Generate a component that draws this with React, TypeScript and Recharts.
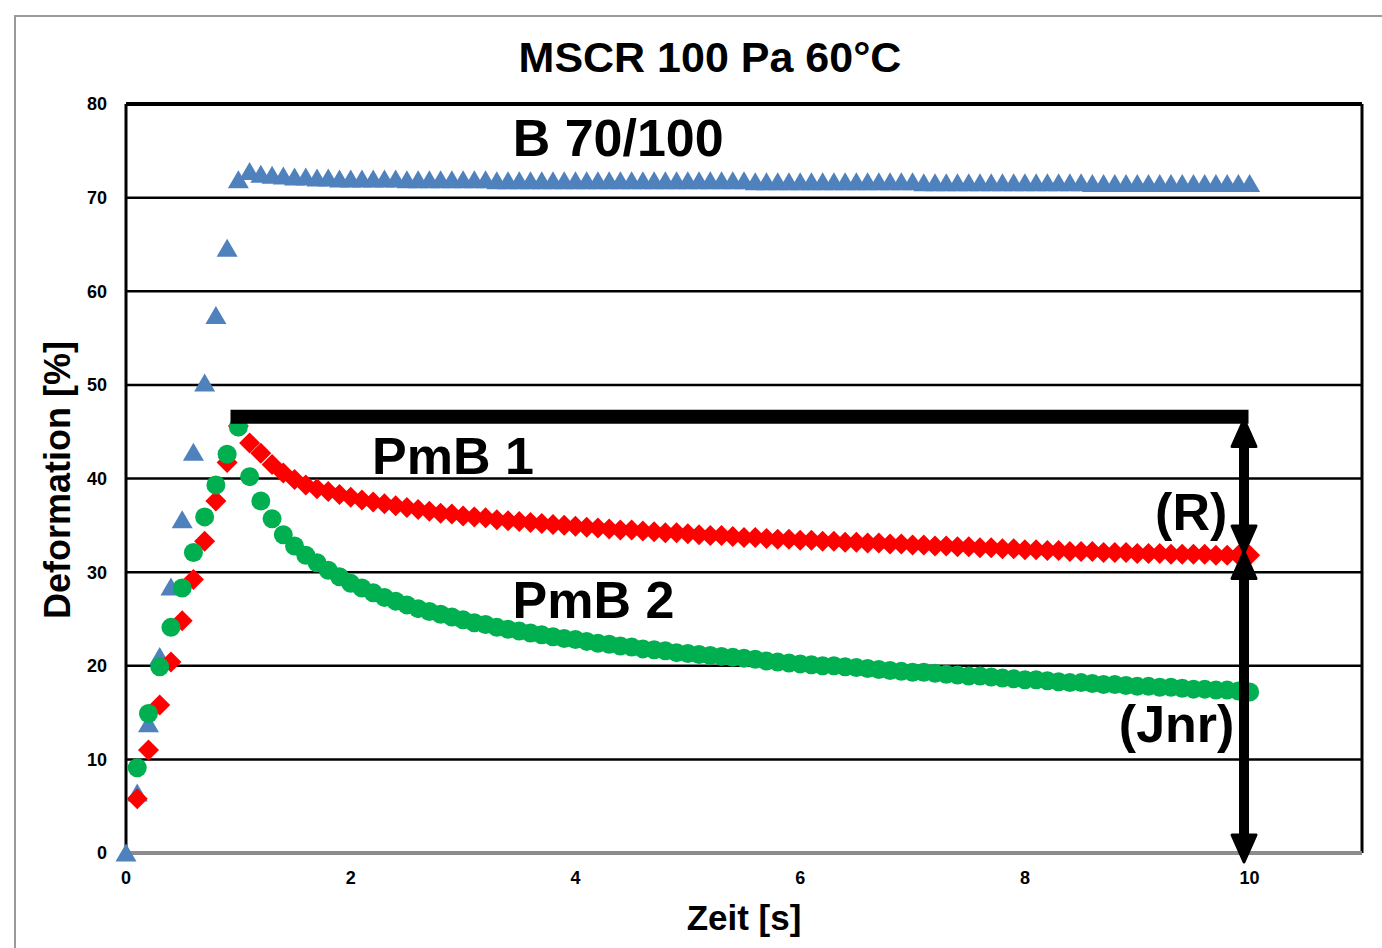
import React from "react";
import {
  ScatterChart,
  Scatter,
  XAxis,
  YAxis,
  CartesianGrid,
  ReferenceLine,
  ReferenceDot,
} from "recharts";

const FONT = "'Liberation Sans', Arial, Helvetica, sans-serif";

// Zeit [s]
const TIME = [
  0, 0.1, 0.2, 0.3, 0.4, 0.5, 0.6, 0.7, 0.8, 0.9, 1.0,
  1.1, 1.2, 1.3, 1.4, 1.5, 1.6, 1.7, 1.8, 1.9, 2.0,
  2.1, 2.2, 2.3, 2.4, 2.5, 2.6, 2.7, 2.8, 2.9, 3.0,
  3.1, 3.2, 3.3, 3.4, 3.5, 3.6, 3.7, 3.8, 3.9, 4.0,
  4.1, 4.2, 4.3, 4.4, 4.5, 4.6, 4.7, 4.8, 4.9, 5.0,
  5.1, 5.2, 5.3, 5.4, 5.5, 5.6, 5.7, 5.8, 5.9, 6.0,
  6.1, 6.2, 6.3, 6.4, 6.5, 6.6, 6.7, 6.8, 6.9, 7.0,
  7.1, 7.2, 7.3, 7.4, 7.5, 7.6, 7.7, 7.8, 7.9, 8.0,
  8.1, 8.2, 8.3, 8.4, 8.5, 8.6, 8.7, 8.8, 8.9, 9.0,
  9.1, 9.2, 9.3, 9.4, 9.5, 9.6, 9.7, 9.8, 9.9, 10.0,
];

// Deformation [%]
const B70_100 = [
  0, 6.4, 13.8, 21.0, 28.4, 35.6, 42.8, 50.2, 57.4, 64.6, 71.9,
  72.8, 72.5, 72.4, 72.3, 72.2, 72.2, 72.1, 72.1, 72.0, 72.0,
  72.0, 72.0, 72.0, 72.0, 71.9, 71.9, 71.9, 71.9, 71.9, 71.9,
  71.9, 71.9, 71.8, 71.8, 71.8, 71.8, 71.8, 71.8, 71.8, 71.8,
  71.8, 71.8, 71.8, 71.8, 71.8, 71.8, 71.8, 71.8, 71.8, 71.8,
  71.8, 71.8, 71.8, 71.8, 71.8, 71.7, 71.7, 71.7, 71.7, 71.7,
  71.7, 71.7, 71.7, 71.7, 71.7, 71.7, 71.7, 71.7, 71.7, 71.7,
  71.6, 71.6, 71.6, 71.6, 71.6, 71.6, 71.6, 71.6, 71.6, 71.6,
  71.6, 71.6, 71.6, 71.6, 71.6, 71.5, 71.5, 71.5, 71.5, 71.5,
  71.5, 71.5, 71.5, 71.5, 71.5, 71.5, 71.5, 71.5, 71.5, 71.5,
];

const PMB1 = [
  null, 5.8, 11.0, 15.8, 20.4, 24.8, 29.2, 33.3, 37.6, 41.7, 45.6,
  43.8, 42.7, 41.5, 40.6, 39.9, 39.3, 38.9, 38.6, 38.3, 38.0,
  37.7, 37.5, 37.3, 37.1, 36.9, 36.7, 36.5, 36.3, 36.2, 36.0,
  35.9, 35.8, 35.6, 35.5, 35.4, 35.3, 35.2, 35.1, 35.0, 34.9,
  34.8, 34.7, 34.6, 34.5, 34.5, 34.4, 34.3, 34.2, 34.2, 34.1,
  34.0, 33.9, 33.9, 33.8, 33.7, 33.7, 33.6, 33.5, 33.5, 33.4,
  33.4, 33.3, 33.3, 33.2, 33.2, 33.1, 33.1, 33.0, 33.0, 32.9,
  32.9, 32.8, 32.8, 32.7, 32.7, 32.6, 32.6, 32.5, 32.5, 32.4,
  32.4, 32.3, 32.3, 32.2, 32.2, 32.2, 32.1, 32.1, 32.1, 32.0,
  32.0, 32.0, 31.9, 31.9, 31.9, 31.9, 31.8, 31.8, 31.8, 31.8,
];

const PMB2 = [
  null, 9.1, 14.9, 19.9, 24.1, 28.3, 32.1, 35.9, 39.3, 42.6, 45.5,
  40.2, 37.6, 35.7, 34.0, 32.8, 31.8, 31.0, 30.2, 29.5, 28.8,
  28.3, 27.8, 27.3, 26.9, 26.5, 26.1, 25.8, 25.5, 25.2, 24.9,
  24.6, 24.4, 24.1, 23.9, 23.7, 23.5, 23.3, 23.1, 22.9, 22.8,
  22.6, 22.4, 22.3, 22.1, 22.0, 21.8, 21.7, 21.6, 21.4, 21.3,
  21.2, 21.1, 21.0, 20.9, 20.8, 20.7, 20.5, 20.4, 20.3, 20.2,
  20.1, 20.0, 20.0, 19.9, 19.8, 19.7, 19.6, 19.5, 19.4, 19.3,
  19.3, 19.2, 19.1, 19.0, 18.9, 18.9, 18.8, 18.7, 18.6, 18.5,
  18.5, 18.4, 18.3, 18.2, 18.2, 18.1, 18.0, 18.0, 17.9, 17.8,
  17.8, 17.7, 17.7, 17.6, 17.5, 17.5, 17.4, 17.4, 17.3, 17.2,
];

const X_TICKS = [0, 2, 4, 6, 8, 10];
const Y_TICKS = [0, 10, 20, 30, 40, 50, 60, 70, 80];
const X_DOMAIN = [0, 11];
const Y_DOMAIN = [0, 80];

// annotation anchors (data coordinates)
const BAR_Y = 46.6;
const BAR_X = [0.93, 9.99];
const ARROW_X = 9.95;
const R_TOP = 46.3;
const R_BOTTOM = 32.05;
const JNR_TOP = 32.2;
const JNR_BOTTOM = -0.96;

const LABELS = [
  { text: "B 70/100", t: 4.38, v: 76.4 },
  { text: "PmB 1", t: 2.91, v: 42.4 },
  { text: "PmB 2", t: 4.16, v: 27.0 },
  { text: "(R)", t: 9.48, v: 36.4 },
  { text: "(Jnr)", t: 9.35, v: 13.8 },
];

function toPoints(vals: (number | null)[]) {
  return TIME.map((t, i) => ({ t, v: vals[i] })).filter((p) => p.v !== null);
}

const blueData = toPoints(B70_100);
const redData = toPoints(PMB1);
const greenData = toPoints(PMB2);

function TriangleMark(props: any) {
  const { cx, cy } = props;
  return (
    <polygon
      points={`${cx},${cy - 9.5} ${cx + 10.5},${cy + 8.5} ${cx - 10.5},${cy + 8.5}`}
      fill="#4F81BD"
    />
  );
}

function DiamondMark(props: any) {
  const { cx, cy } = props;
  return (
    <polygon
      points={`${cx},${cy - 10.5} ${cx + 10.5},${cy} ${cx},${cy + 10.5} ${cx - 10.5},${cy}`}
      fill="#FF0000"
    />
  );
}

function CircleMark(props: any) {
  const { cx, cy } = props;
  return <circle cx={cx} cy={cy} r={9.5} fill="#00B050" />;
}

function NoMark() {
  return <g />;
}

function ArrowUp(props: any) {
  const { cx, cy } = props;
  return (
    <polygon
      points={`${cx},${cy} ${cx + 12},${cy + 27} ${cx - 12},${cy + 27}`}
      fill="#000"
      stroke="#000"
      strokeWidth={3}
      strokeLinejoin="round"
    />
  );
}

function ArrowDown(props: any) {
  const { cx, cy } = props;
  return (
    <polygon
      points={`${cx},${cy} ${cx + 12},${cy - 27} ${cx - 12},${cy - 27}`}
      fill="#000"
      stroke="#000"
      strokeWidth={3}
      strokeLinejoin="round"
    />
  );
}

function makeLabel(text: string) {
  return (props: any) => (
    <text
      x={props.cx}
      y={props.cy}
      textAnchor="middle"
      dominantBaseline="central"
      fontFamily={FONT}
      fontWeight="bold"
      fontSize={52}
      fill="#000"
    >
      {text}
    </text>
  );
}

const tickStyle = { fill: "#000", fontSize: 18, fontWeight: "bold", fontFamily: FONT };

export default function App() {
  return (
    <div
      style={{
        position: "absolute",
        left: 0,
        top: 0,
        width: 1382,
        height: 948,
        overflow: "hidden",
        background: "#fff",
        fontFamily: FONT,
      }}
    >
      <div
        style={{
          position: "absolute",
          left: 14,
          top: 15,
          width: 1420,
          height: 1000,
          borderLeft: "2px solid #9a9a9a",
          borderTop: "2px solid #9a9a9a",
        }}
      />
      <div
        style={{
          position: "absolute",
          left: 710,
          top: 57,
          transform: "translate(-50%, -50%)",
          fontSize: 43,
          fontWeight: "bold",
          lineHeight: 1,
          whiteSpace: "nowrap",
        }}
      >
        MSCR 100 Pa 60°C
      </div>
      <div
        style={{
          position: "absolute",
          left: 58,
          top: 480,
          transform: "translate(-50%, -50%) rotate(-90deg)",
          fontSize: 36,
          fontWeight: "bold",
          lineHeight: 1,
          whiteSpace: "nowrap",
        }}
      >
        Deformation [%]
      </div>
      <div
        style={{
          position: "absolute",
          left: 744,
          top: 917,
          transform: "translate(-50%, -50%)",
          fontSize: 35,
          fontWeight: "bold",
          lineHeight: 1,
          whiteSpace: "nowrap",
        }}
      >
        Zeit [s]
      </div>

      {/* data chart */}
      <div style={{ position: "absolute", left: 0, top: 0 }}>
        <ScatterChart
          width={1382}
          height={948}
          margin={{ top: 104, right: 20, bottom: 0, left: 0 }}
        >
          <CartesianGrid horizontal vertical={false} stroke="#000" strokeWidth={2.5} />
          <XAxis
            type="number"
            dataKey="t"
            domain={X_DOMAIN}
            ticks={X_TICKS}
            height={95}
            tickSize={0}
            tickMargin={18}
            tick={tickStyle}
            axisLine={{ stroke: "#8c8c8c", strokeWidth: 4 }}
            tickLine={false}
          />
          <YAxis
            type="number"
            dataKey="v"
            domain={Y_DOMAIN}
            ticks={Y_TICKS}
            width={126}
            tickSize={0}
            tickMargin={19}
            tick={tickStyle}
            axisLine={{ stroke: "#000", strokeWidth: 3 }}
            tickLine={false}
          />
          <ReferenceLine y={80} stroke="#000" strokeWidth={4} />
          <ReferenceLine x={11} stroke="#000" strokeWidth={3} />
          <Scatter name="B 70/100" data={blueData} shape={<TriangleMark />} isAnimationActive={false} />
          <Scatter name="PmB 1" data={redData} shape={<DiamondMark />} isAnimationActive={false} />
          <Scatter name="PmB 2" data={greenData} shape={<CircleMark />} isAnimationActive={false} />
        </ScatterChart>
      </div>

      {/* annotation layer on top, same plot area and scales */}
      <div style={{ position: "absolute", left: 0, top: 0, pointerEvents: "none" }}>
        <ScatterChart
          width={1382}
          height={948}
          margin={{ top: 104, right: 20, bottom: 0, left: 0 }}
        >
          <XAxis
            type="number"
            dataKey="t"
            domain={X_DOMAIN}
            ticks={X_TICKS}
            height={95}
            axisLine={false}
            tickLine={false}
            tick={false}
          />
          <YAxis
            type="number"
            dataKey="v"
            domain={Y_DOMAIN}
            ticks={Y_TICKS}
            width={126}
            axisLine={false}
            tickLine={false}
            tick={false}
          />
          <Scatter data={blueData} shape={<NoMark />} isAnimationActive={false} />
          <ReferenceLine
            segment={[
              { x: BAR_X[0], y: BAR_Y },
              { x: BAR_X[1], y: BAR_Y },
            ]}
            stroke="#000"
            strokeWidth={14}
            ifOverflow="visible"
          />
          <ReferenceLine
            segment={[
              { x: ARROW_X, y: R_TOP - 2 },
              { x: ARROW_X, y: R_BOTTOM + 2 },
            ]}
            stroke="#000"
            strokeWidth={10}
            ifOverflow="visible"
          />
          <ReferenceLine
            segment={[
              { x: ARROW_X, y: JNR_TOP - 2 },
              { x: ARROW_X, y: JNR_BOTTOM + 2 },
            ]}
            stroke="#000"
            strokeWidth={10}
            ifOverflow="visible"
          />
          <ReferenceDot x={ARROW_X} y={R_TOP} shape={<ArrowUp />} ifOverflow="visible" />
          <ReferenceDot x={ARROW_X} y={R_BOTTOM} shape={<ArrowDown />} ifOverflow="visible" />
          <ReferenceDot x={ARROW_X} y={JNR_TOP} shape={<ArrowUp />} ifOverflow="visible" />
          <ReferenceDot x={ARROW_X} y={JNR_BOTTOM} shape={<ArrowDown />} ifOverflow="visible" />
          {LABELS.map((l) => (
            <ReferenceDot
              key={l.text}
              x={l.t}
              y={l.v}
              shape={makeLabel(l.text)}
              ifOverflow="visible"
            />
          ))}
        </ScatterChart>
      </div>
    </div>
  );
}
